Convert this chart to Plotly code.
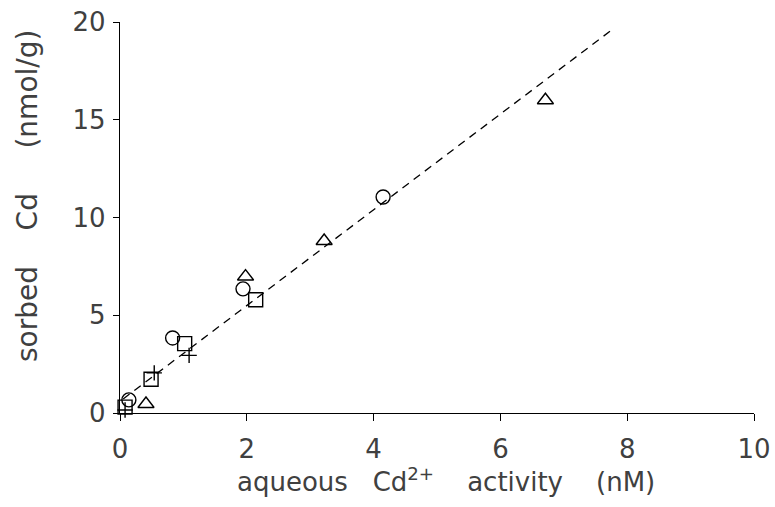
import plotly.graph_objects as go

# Data
circle_x = [4.15, 1.94, 0.83, 0.14]
circle_y = [11.05, 6.35, 3.84, 0.67]

square_x = [2.14, 1.02, 0.49, 0.08]
square_y = [5.79, 3.55, 1.73, 0.30]

triangle_x = [6.71, 3.22, 1.98, 0.41]
triangle_y = [16.0, 8.8, 6.98, 0.46]

plus_x = [1.09, 0.54, 0.08]
plus_y = [2.95, 2.05, 0.15]

fit_x = [0.05, 7.80]
fit_y = [0.72, 19.70]

x_ticks = [0, 2, 4, 6, 8, 10]
y_ticks = [0, 5, 10, 15, 20]

FONT = "DejaVu Sans"
TXT = "#404040"
FS = 26

fig = go.Figure()

fig.add_trace(go.Scatter(x=fit_x, y=fit_y, mode="lines",
                         line=dict(color="black", width=1.3, dash="8px,6px"),
                         showlegend=False, hoverinfo="skip"))

def add_markers(xs, ys, symbol, size):
    fig.add_trace(go.Scatter(x=xs, y=ys, mode="markers", cliponaxis=False,
                             marker=dict(symbol=symbol, size=size, color="black",
                                         line=dict(color="black", width=1.4)),
                             showlegend=False))

add_markers(circle_x, circle_y, "circle-open", 14)
add_markers(square_x, square_y, "square-open", 14)
add_markers(triangle_x, triangle_y, "triangle-up-open", 14)
add_markers(plus_x, plus_y, "cross-thin-open", 11)

axis_common = dict(showgrid=False, zeroline=False, showline=True, linecolor="black",
                   linewidth=1.3, ticks="outside", tickwidth=1.3, tickcolor="black",
                   automargin=False)

fig.update_layout(
    width=775, height=507,
    margin=dict(l=120, r=21, t=22, b=94),
    paper_bgcolor="white", plot_bgcolor="white",
    font=dict(family=FONT, size=FS, color=TXT),
    xaxis=dict(range=[0, 10], tickvals=x_ticks, ticktext=[str(v) for v in x_ticks],
               ticklen=7, ticklabelstandoff=6, **axis_common),
    yaxis=dict(range=[0, 20], tickvals=y_ticks, ticktext=[str(v) for v in y_ticks],
               ticklen=6, ticklabelstandoff=2, **axis_common),
    annotations=[
        dict(text="aqueous   Cd<sup>2+</sup>    activity    (nM)", xref="paper", yref="paper",
             x=(446 - 120) / 634, y=-(480 - 413) / 391, xanchor="center", yanchor="middle",
             showarrow=False, font=dict(family=FONT, size=FS, color=TXT)),
        dict(text="sorbed    Cd     (nmol/g)", xref="paper", yref="paper", textangle=-90,
             x=-(120 - 27) / 634, y=(413 - 196) / 391, xanchor="center", yanchor="middle",
             showarrow=False, font=dict(family=FONT, size=28, color=TXT)),
    ],
)

fig.write_html("out.html")
